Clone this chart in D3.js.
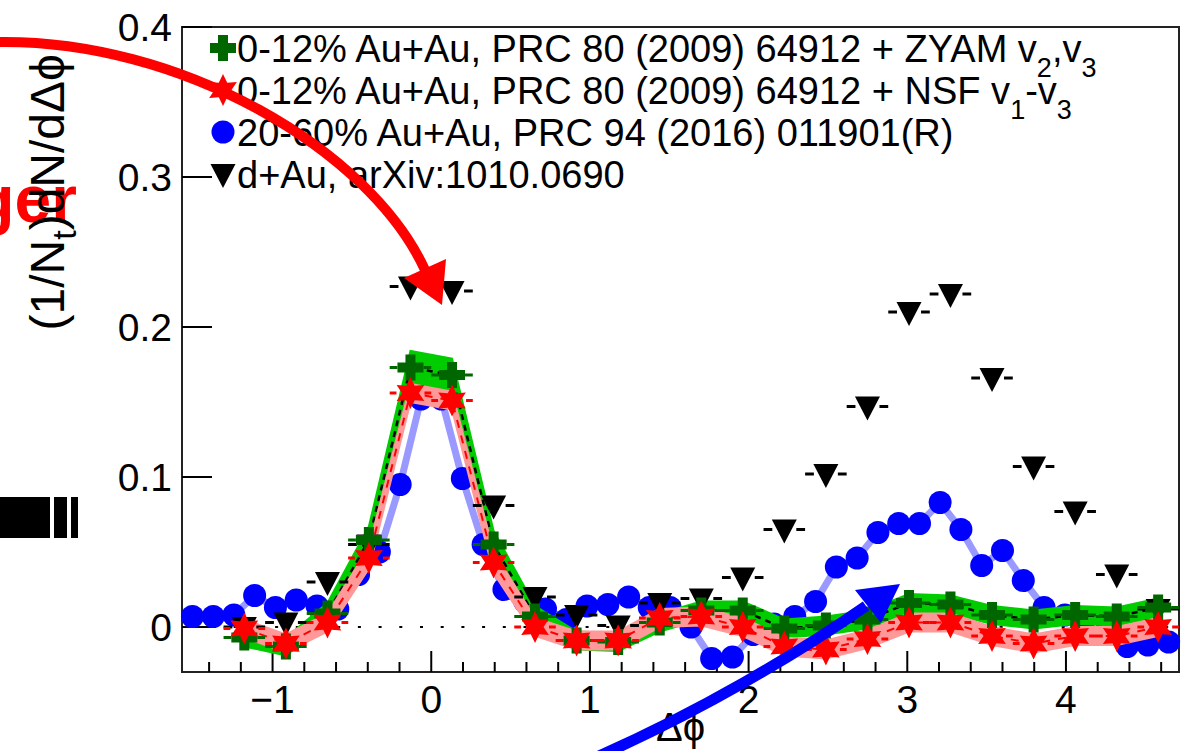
<!DOCTYPE html>
<html>
<head>
<meta charset="utf-8">
<script src="https://cdnjs.cloudflare.com/ajax/libs/d3/7.8.5/d3.min.js"></script>
<style>
  body { margin: 0; background: #fff; }
  svg { display: block; font-family: "Liberation Sans", Arial, Helvetica, sans-serif; }
</style>
</head>
<body>
<div id="vis"></div>
<script>
// bin centres (pi/12 bins and pi/24 bins)
var phiWide = [-1.178, -0.916, -0.654, -0.393, -0.131, 0.131, 0.393, 0.654, 0.916, 1.178, 1.440, 1.702,
               1.963, 2.225, 2.487, 2.749, 3.011, 3.272, 3.534, 3.796, 4.058, 4.320, 4.581];
var phiFine = [-1.505, -1.374, -1.244, -1.113, -0.982, -0.851, -0.720, -0.589, -0.458, -0.327, -0.196, -0.065,
               0.065, 0.196, 0.327, 0.458, 0.589, 0.720, 0.851, 0.982, 1.113, 1.244, 1.374, 1.505,
               1.637, 1.767, 1.898, 2.029, 2.160, 2.291, 2.422, 2.553, 2.684, 2.815, 2.946, 3.077,
               3.207, 3.338, 3.469, 3.600, 3.731, 3.862, 3.993, 4.124, 4.255, 4.386, 4.516, 4.647];

// 0-12% Au+Au + ZYAM v2,v3
var zyamVals = [-0.007, -0.013, 0.009, 0.058, 0.173, 0.168, 0.055, 0.007, -0.009, -0.010, 0.003, 0.011,
                0.011, -0.001, 0.001, 0.005, 0.016, 0.015, 0.008, 0.005, 0.008, 0.007, 0.013];
var zyamSys  = [0.006, 0.006, 0.007, 0.009, 0.011, 0.011, 0.009, 0.007, 0.006, 0.006, 0.006, 0.006,
                0.006, 0.006, 0.006, 0.006, 0.006, 0.006, 0.006, 0.006, 0.006, 0.006, 0.006];
// 0-12% Au+Au + NSF v1-v3
var nsfVals  = [-0.001, -0.011, 0.003, 0.046, 0.156, 0.151, 0.043, 0.000, -0.009, -0.009, 0.006, 0.007,
                0.000, -0.013, -0.015, -0.008, 0.003, 0.003, -0.006, -0.011, -0.006, -0.006, 0.000];
var nsfSys   = [0.006, 0.006, 0.006, 0.007, 0.006, 0.006, 0.007, 0.006, 0.006, 0.006, 0.006, 0.006,
                0.006, 0.006, 0.006, 0.006, 0.006, 0.006, 0.006, 0.006, 0.006, 0.006, 0.006];
// 20-60% Au+Au
var periphVals = [0.007, 0.007, 0.008, 0.021, 0.013, 0.018, 0.014, 0.012, 0.035, 0.050, 0.095, 0.152,
                  0.152, 0.099, 0.055, 0.025, 0.017, 0.012, 0.005, 0.014, 0.015, 0.020, 0.013, 0.013,
                  0.000, -0.021, -0.020, -0.005, 0.002, 0.007, 0.017, 0.040, 0.046, 0.063, 0.069, 0.069,
                  0.083, 0.065, 0.041, 0.051, 0.031, 0.013, 0.008, 0.006, 0.004, -0.013, -0.012, -0.010];
// d+Au
var dauVals  = [0.000, 0.003, 0.030, 0.055, 0.227, 0.224, 0.081, 0.020, 0.008, 0.001, 0.016, 0.019,
                0.033, 0.065, 0.102, 0.147, 0.210, 0.222, 0.166, 0.107, 0.077, 0.035, 0.012];

var xTicks = [-1, 0, 1, 2, 3, 4];
var xMinor = [-1.4, -1.2, -0.8, -0.6, -0.4, -0.2, 0.2, 0.4, 0.6, 0.8, 1.2, 1.4, 1.6, 1.8, 2.2, 2.4, 2.6, 2.8,
              3.2, 3.4, 3.6, 3.8, 4.2, 4.4, 4.6];
var yTicks = [0, 0.1, 0.2, 0.3, 0.4];
var legendLabels = [
  ["0-12% Au+Au, PRC 80 (2009) 64912 + ZYAM v", "2", ",v", "3"],
  ["0-12% Au+Au, PRC 80 (2009) 64912 + NSF v", "1", "-v", "3"],
  ["20-60% Au+Au, PRC 94 (2016) 011901(R)"],
  ["d+Au, arXiv:1010.0690"]
];

var W = 1184, H = 751;
var margin = {top: 27, right: 5, bottom: 79, left: 182},
    width = W - margin.left - margin.right,
    height = H - margin.top - margin.bottom;

var svgRoot = d3.select("#vis").append("svg")
    .attr("width", W)
    .attr("height", H);

// slide leftovers behind the chart
svgRoot.append("text")
    .attr("x", 77).attr("y", 222)
    .attr("text-anchor", "end")
    .style("font-weight", "bold")
    .style("font-size", "66px")
    .style("fill", "#ff0000")
    .text("ger");

svgRoot.selectAll("rect.bar")
    .data([[0, 50], [54, 13], [71, 7]])
  .enter().append("rect")
    .attr("class", "bar")
    .attr("x", function(d) { return d[0]; })
    .attr("y", 497)
    .attr("width", function(d) { return d[1]; })
    .attr("height", 41)
    .style("fill", "#000");

var svg = svgRoot.append("g")
    .attr("transform", "translate(" + margin.left + "," + margin.top + ")");

var x = d3.scaleLinear().domain([-Math.PI / 2, 3 * Math.PI / 2]).range([0, width]);
var y = d3.scaleLinear().domain([-0.03, 0.4]).range([height, 0]);

var halfWide = Math.PI / 24;

// markers
function crossPath(a, t) {
  return "M" + (-t) + "," + (-a) + "H" + t + "V" + (-t) + "H" + a + "V" + t + "H" + t + "V" + a +
         "H" + (-t) + "V" + t + "H" + (-a) + "V" + (-t) + "H" + (-t) + "Z";
}
function starPath(R, r) {
  var p = [];
  for (var k = 0; k < 12; k++) {
    var ang = -Math.PI / 2 + k * Math.PI / 6, rr = (k % 2 === 0) ? R : r;
    p.push([rr * Math.cos(ang), rr * Math.sin(ang)]);
  }
  return "M" + p.join("L") + "Z";
}
function triPath(w, up, down) {
  return "M" + (-w) + "," + (-up) + "L" + w + "," + (-up) + "L0," + down + "Z";
}
var crossD = crossPath(13, 5),
    starD = starPath(16, 8.5),
    circleD = d3.symbol(d3.symbolCircle, Math.PI * 11.5 * 11.5)(),
    triD = triPath(12.5, 10, 14);

// axes frame and ticks
svg.append("rect")
    .attr("width", width).attr("height", height)
    .style("fill", "none").style("stroke", "#222").style("stroke-width", 2);

svg.selectAll("line.ytick")
    .data(yTicks)
  .enter().append("line")
    .attr("class", "ytick")
    .attr("x1", 0).attr("x2", 30)
    .attr("y1", function(d) { return y(d); }).attr("y2", function(d) { return y(d); })
    .style("stroke", "#000").style("stroke-width", 2);

svg.selectAll("text.ylab")
    .data(yTicks)
  .enter().append("text")
    .attr("class", "ylab")
    .attr("x", -10)
    .attr("y", function(d) { return y(d) + 14; })
    .attr("text-anchor", "end")
    .style("font-size", "39px")
    .text(function(d) { return d === 0 ? "0" : d3.format(".1f")(d); });

svg.selectAll("line.xtick")
    .data(xTicks)
  .enter().append("line")
    .attr("class", "xtick")
    .attr("x1", function(d) { return x(d); }).attr("x2", function(d) { return x(d); })
    .attr("y1", height).attr("y2", height - 21)
    .style("stroke", "#000").style("stroke-width", 2);

svg.selectAll("line.xminor")
    .data(xMinor)
  .enter().append("line")
    .attr("class", "xminor")
    .attr("x1", function(d) { return x(d); }).attr("x2", function(d) { return x(d); })
    .attr("y1", height).attr("y2", height - 10)
    .style("stroke", "#000").style("stroke-width", 2);

svg.selectAll("text.xlab")
    .data(xTicks)
  .enter().append("text")
    .attr("class", "xlab")
    .attr("x", function(d) { return x(d); })
    .attr("y", height + 41)
    .attr("text-anchor", "middle")
    .style("font-size", "39px")
    .text(function(d) { return d < 0 ? "\u2212" + Math.abs(d) : d; });

// axis titles
svgRoot.append("text")
    .attr("x", margin.left + width / 2)
    .attr("y", 741)
    .attr("text-anchor", "middle")
    .style("font-size", "40px")
    .text("\u0394\u03d5");

var ytitle = svgRoot.append("text")
    .attr("transform", "translate(64,54) rotate(-90)")
    .attr("text-anchor", "end")
    .style("font-size", "48px");
ytitle.append("tspan").text("(1/N");
ytitle.append("tspan").attr("dy", 12).style("font-size", "34px").text("t");
ytitle.append("tspan").attr("dy", -12).text(")dN/d\u0394\u03d5");

// y = 0 reference
svg.append("line")
    .attr("x1", 31).attr("x2", width)
    .attr("y1", y(0)).attr("y2", y(0))
    .style("stroke", "#000").style("stroke-width", 2)
    .style("stroke-dasharray", "3,17.7");

// 20-60% line + points (drawn under the bands)
svg.append("path")
    .attr("d", d3.line()
      .x(function(d, i) { return x(phiFine[i]); })
      .y(function(d) { return y(d); })(periphVals))
    .style("fill", "none").style("stroke", "#9999ff").style("stroke-width", 7);

svg.selectAll("path.periph")
    .data(periphVals)
  .enter().append("path")
    .attr("class", "periph")
    .attr("d", circleD)
    .attr("transform", function(d, i) { return "translate(" + x(phiFine[i]) + "," + y(d) + ")"; })
    .style("fill", "#0000ff");

// systematic bands
var bandArea = function(vals, sys) {
  return d3.area()
    .x(function(d, i) { return x(phiWide[i]); })
    .y0(function(d, i) { return y(vals[i] - sys[i]); })
    .y1(function(d, i) { return y(vals[i] + sys[i]); })(vals);
};
var centreLine = d3.line()
    .x(function(d, i) { return x(phiWide[i]); })
    .y(function(d) { return y(d); });

svg.append("path").attr("d", bandArea(zyamVals, zyamSys))
    .style("fill", "#00cc00").style("stroke", "#00cc00").style("stroke-width", 2);
svg.append("path").attr("d", centreLine(zyamVals))
    .style("fill", "none").style("stroke", "#000").style("stroke-width", 2.5)
    .style("stroke-dasharray", "6,5");

svg.append("path").attr("d", bandArea(nsfVals, nsfSys))
    .style("fill", "#ff9999").style("stroke", "#ff9999").style("stroke-width", 2);
svg.append("path").attr("d", centreLine(nsfVals))
    .style("fill", "none").style("stroke", "#ff0000").style("stroke-width", 2)
    .style("stroke-dasharray", "8,8");

// horizontal error bars outside the marker
function xErrBars(cls, vals, color, gap) {
  var g = svg.append("g").attr("class", cls);
  vals.forEach(function(v, i) {
    var cx = x(phiWide[i]), cy = y(v), half = x(phiWide[i] + halfWide) - cx;
    g.append("line").attr("x1", cx - half).attr("x2", cx - gap).attr("y1", cy).attr("y2", cy);
    g.append("line").attr("x1", cx + gap).attr("x2", cx + half).attr("y1", cy).attr("y2", cy);
  });
  g.selectAll("line").style("stroke", color).style("stroke-width", 3);
}

xErrBars("dauErr", dauVals, "#000", 12);
svg.selectAll("path.dau")
    .data(dauVals)
  .enter().append("path")
    .attr("class", "dau")
    .attr("d", triD)
    .attr("transform", function(d, i) { return "translate(" + x(phiWide[i]) + "," + y(d) + ")"; })
    .style("fill", "#000");

xErrBars("zyamErr", zyamVals, "#006600", 13);
svg.selectAll("path.zyam")
    .data(zyamVals)
  .enter().append("path")
    .attr("class", "zyam")
    .attr("d", crossD)
    .attr("transform", function(d, i) { return "translate(" + x(phiWide[i]) + "," + y(d) + ")"; })
    .style("fill", "#006600");

xErrBars("nsfErr", nsfVals, "#ff0000", 14);
svg.selectAll("path.nsf")
    .data(nsfVals)
  .enter().append("path")
    .attr("class", "nsf")
    .attr("d", starD)
    .attr("transform", function(d, i) { return "translate(" + x(phiWide[i]) + "," + y(d) + ")"; })
    .style("fill", "#ff0000");

// legend
var legendMarks = [
  {d: crossD, fill: "#006600"},
  {d: starD, fill: "#ff0000"},
  {d: circleD, fill: "#0000ff"},
  {d: triD, fill: "#000"}
];
var legend = svgRoot.append("g").attr("transform", "translate(223,48)");
legendLabels.forEach(function(lab, i) {
  var row = legend.append("g").attr("transform", "translate(0," + (i * 42) + ")");
  row.append("path").attr("d", legendMarks[i].d).style("fill", legendMarks[i].fill);
  var t = row.append("text").attr("x", 14).attr("y", 14).style("font-size", "38px");
  t.append("tspan").text(lab[0]);
  if (lab.length > 1) {
    t.append("tspan").attr("dy", 15).style("font-size", "27px").text(lab[1]);
    t.append("tspan").attr("dy", -15).text(lab[2]);
    t.append("tspan").attr("dy", 15).style("font-size", "27px").text(lab[3]);
  }
});

// annotation arrows on top
svgRoot.append("path")
    .attr("d", "M-5,42 C180,38 370,150 425,270")
    .style("fill", "none").style("stroke", "#ff0000").style("stroke-width", 10);
svgRoot.append("path")
    .attr("d", "M404,278 L446,259 L442,305 Z")
    .style("fill", "#ff0000");

svgRoot.append("path")
    .attr("d", "M590,760 C700,712 800,652 866,606")
    .style("fill", "none").style("stroke", "#0000ff").style("stroke-width", 11);
svgRoot.append("path")
    .attr("d", "M855,590 L881,623 L900,584 Z")
    .style("fill", "#0000ff");
</script>
</body>
</html>
